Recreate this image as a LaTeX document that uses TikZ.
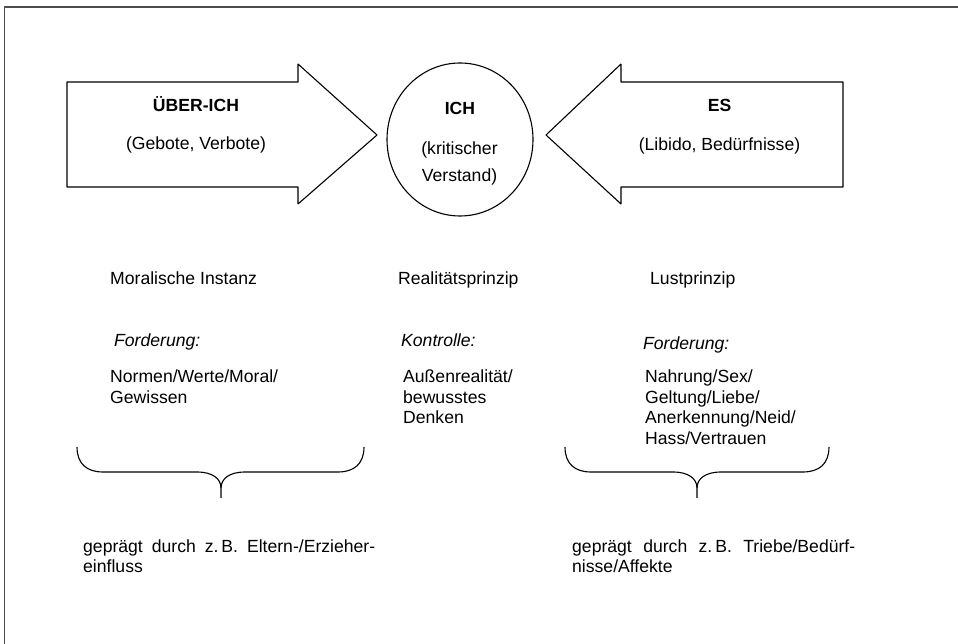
\documentclass[tikz,border=0pt]{standalone}
\usepackage{fontspec}
\setmainfont{Liberation Sans}
\usetikzlibrary{shapes.geometric}
\begin{document}
\begin{tikzpicture}[>=latex,line join=bevel,
  txt/.style={inner sep=0pt,font=\fontsize{17.6bp}{20.5bp}\selectfont},
  titel/.style={inner sep=0pt,font=\fontsize{17.6bp}{20.5bp}\selectfont\bfseries},
  kursiv/.style={inner sep=0pt,font=\fontsize{17.6bp}{20.5bp}\selectfont\itshape},
  outline/.style={draw=black,line width=1.1bp},]
%%
\useasboundingbox (0bp,0bp) rectangle (958bp,644bp);
\draw [black!70,line width=1.8bp] (4.5bp,0bp) -- (4.5bp,637bp) -- (958bp,637bp);
%
\draw [outline] (67bp,562bp) -- (298bp,562bp) -- (298bp,580bp) -- (377bp,509bp) -- (298bp,440bp) -- (298bp,457bp) -- (67bp,457bp) -- cycle;
\draw [outline] (843bp,562bp) -- (621bp,562bp) -- (621bp,580bp) -- (546bp,509bp) -- (621bp,440bp) -- (621bp,457bp) -- (843bp,457bp) -- cycle;
\node (ich) at (460bp,504.5bp) [outline,ellipse,minimum width=146bp,minimum height=153bp] {};
%
\node (ueberich) at (196bp,532bp) [titel,anchor=base] {ÜBER-ICH};
  \node (gebote) at (196bp,494bp) [txt,anchor=base] {(Gebote, Verbote)};
\node (ichtitel) at (460bp,529bp) [titel,anchor=base] {ICH};
  \node (verstand) at (459.5bp,462bp) [txt,anchor=base,align=center,font=\fontsize{17.6bp}{27bp}\selectfont] {(kritischer\\Verstand)};
\node (es) at (719.5bp,532bp) [titel,anchor=base] {ES};
  \node (libido) at (719.5bp,493bp) [txt,anchor=base] {(Libido, Bedürfnisse)};
%
\node (moral) at (110bp,359bp) [txt,anchor=base west] {Moralische Instanz};
\node (realitaet) at (398bp,359bp) [txt,anchor=base west] {Realitätsprinzip};
\node (lust) at (650bp,359bp) [txt,anchor=base west] {Lustprinzip};
\node (forderung1) at (114bp,297bp) [kursiv,anchor=base west] {Forderung:};
\node (kontrolle) at (401bp,297bp) [kursiv,anchor=base west] {Kontrolle:};
\node (forderung2) at (643bp,294bp) [kursiv,anchor=base west] {Forderung:};
\node (normen) at (110bp,240.5bp) [txt,anchor=base west,align=left] {Normen/Werte/Moral/\\Gewissen};
\node (aussen) at (403bp,220bp) [txt,anchor=base west,align=left] {Außenrealität/\\bewusstes\\Denken};
\node (nahrung) at (645bp,199.5bp) [txt,anchor=base west,align=left] {Nahrung/Sex/\\Geltung/Liebe/\\Anerkennung/Neid/\\Hass/Vertrauen};
%
\begin{scope}[x=1bp,y=1bp]
\foreach \l/\m/\r in {77/221/364,565/697/829} {
  \draw [outline] (\l,197) .. controls (\l,180) and ({\l+10},172) .. ({\l+26},172) -- ({\m-24},172)
    .. controls ({\m-8},172) and (\m,165) .. (\m,156) -- (\m,146);
  \draw [outline] (\m,156) .. controls (\m,165) and ({\m+8},172) .. ({\m+24},172) -- ({\r-26},172)
    .. controls ({\r-10},172) and (\r,180) .. (\r,197);
}
\end{scope}
%
\node (eltern) at (83bp,71bp) [txt,anchor=base west,align=left,font=\fontsize{17.6bp}{20bp}\selectfont] {\makebox[292bp][s]{geprägt durch z.\,B. Eltern-/Erzieher-}\\einfluss};
\node (triebe) at (572bp,71bp) [txt,anchor=base west,align=left,font=\fontsize{17.6bp}{20bp}\selectfont] {\makebox[283bp][s]{geprägt durch z.\,B. Triebe/Bedürf-}\\nisse/Affekte};
%
\end{tikzpicture}
\end{document}
